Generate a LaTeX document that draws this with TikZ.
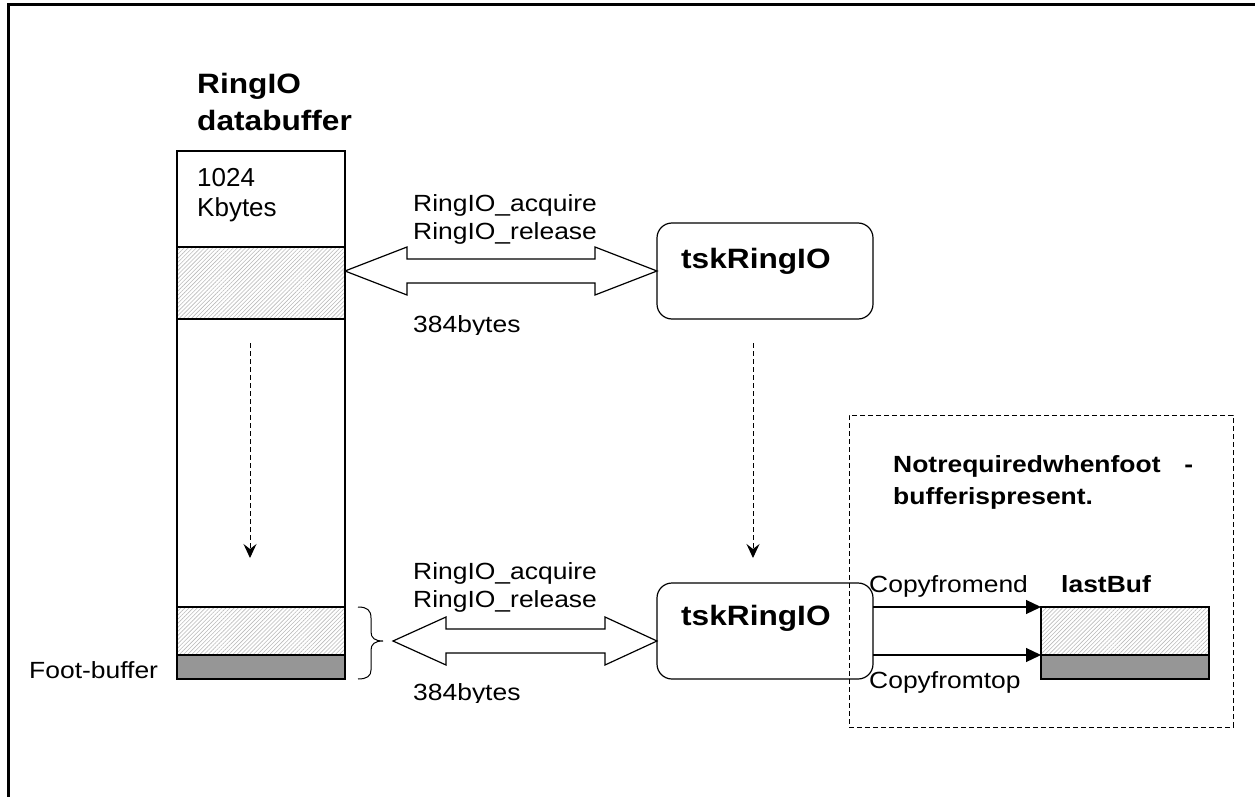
\documentclass[tikz,border=0pt]{standalone}
\usepackage{fontspec}
\setmainfont[FakeStretch=1.13]{Liberation Sans}
\newfontfamily\plainfont{Liberation Sans}
\usetikzlibrary{arrows.meta,patterns.meta,calc}
\newcommand\regsz{\fontsize{23.4}{27}\selectfont}
\newcommand\bigsz{\fontsize{28}{37}\selectfont\bfseries}
\newcommand\midbold{\fontsize{23.4}{30}\selectfont\bfseries}
\begin{document}
\begin{tikzpicture}[x=1pt,y=-1pt,
  box/.style={draw, line width=1.2pt, inner sep=0pt, outer sep=0pt, anchor=north west},
  hatch/.style={box, pattern={Lines[angle=45,distance=2.9pt,line width=0.6pt]}, pattern color=black!27},
  dark/.style={box, fill=black!41},
  txt/.style={inner sep=0pt, anchor=base west, font=\regsz},
  btxt/.style={inner sep=0pt, anchor=base west, font=\bigsz},
  mtxt/.style={inner sep=0pt, anchor=base west, font=\midbold},
  task/.style={draw, line width=1.2pt, rounded corners=15pt, minimum width=216pt, minimum height=96pt, inner sep=0pt, outer sep=0pt, anchor=north west},
  dasharrow/.style={line width=1pt, dash pattern=on 5pt off 3pt, -{Stealth[length=14pt,width=13pt,inset=5pt]}},
  blockarrow/.style={draw, line width=1.2pt, fill=white, line join=miter},
  copyarrow/.style={line width=1.2pt, -{Triangle[length=15pt,width=14pt]}}]
\useasboundingbox (0,0) rectangle (1255,797);
% outer frame
\draw[line width=3pt] (1262,5) -- (8,5) -- (8,805);
% title
\node[btxt] (title1) at (197,94) {RingIO};
\node[btxt] (title2) at (197,131) {databuffer};
% buffer
\node[box, minimum width=168pt, minimum height=96pt] (b0) at (177,151) {};
\node[hatch, minimum width=168pt, minimum height=72pt] (h1) at (177,247) {};
\node[box, minimum width=168pt, minimum height=288pt] (b1) at (177,319) {};
\node[hatch, minimum width=168pt, minimum height=48pt] (h2) at (177,607) {};
\node[dark, minimum width=168pt, minimum height=24pt] (fb) at (177,655) {};
\node[inner sep=0pt, anchor=base west, font=\plainfont\fontsize{26}{30}\selectfont] (kb1) at (197,186) {1024};
\node[inner sep=0pt, anchor=base west, font=\plainfont\fontsize{26}{30}\selectfont] (kb2) at (197,216) {Kbytes};
\node[txt] (foot) at (29,678) {Foot-buffer};
% tasks
\node[task] (t1) at (657,223) {};
\node[task] (t2) at (657,583) {};
\node[btxt] (t1l) at (681,268) {tskRingIO};
\node[btxt] (t2l) at (681,625) {tskRingIO};
% upper block arrow
\coordinate (a1L) at (h1.east |- t1.west);
\coordinate (a1R) at (t1.west);
\draw[blockarrow] (a1L) -- ++(62,-24) -- ++(0,12) -- ($(a1R)+(-62,-12)$) -- ++(0,-12) -- (a1R)
  -- ++(-62,24) -- ++(0,-12) -- ($(a1L)+(62,12)$) -- ++(0,12) -- cycle;
\node[txt] (acq1) at (413,211) {RingIO\_acquire};
\node[txt] (rel1) at (413,239) {RingIO\_release};
\begin{scope}
\clip (400,300) rectangle (640,334);
\node[txt] (sz1) at (413,332) {384bytes};
\end{scope}
% brace and lower block arrow
\coordinate (br) at (383,641);
\draw[line width=1pt] (358,607) .. controls (367,607) and (371,610) .. (371,618) -- (371,632)
  .. controls (371,638) and (375,641) .. (br) .. controls (375,641) and (371,644) .. (371,650) -- (371,670)
  .. controls (371,676) and (367,679) .. (358,679);
\coordinate (a2L) at ($(br)+(10,0)$);
\coordinate (a2R) at (t2.west |- br);
\draw[blockarrow] (a2L) -- ++(53,-24) -- ++(0,12) -- ($(a2R)+(-52,-12)$) -- ++(0,-12) -- (a2R)
  -- ++(-52,24) -- ++(0,-12) -- ($(a2L)+(53,12)$) -- ++(0,12) -- cycle;
\node[txt] (acq2) at (413,579) {RingIO\_acquire};
\node[txt] (rel2) at (413,607) {RingIO\_release};
\begin{scope}
\clip (400,670) rectangle (640,702);
\node[txt] (sz2) at (413,700) {384bytes};
\end{scope}
% dashed arrows
\coordinate (d1s) at (250,343);
\coordinate (d1e) at (250,558);
\draw[dasharrow] (d1s) -- (d1e);
\coordinate (d2s) at ($(t1.south)+(-12,24)$);
\coordinate (d2e) at ($(t2.north)+(-12,-25)$);
\draw[dasharrow] (d2s) -- (d2e);
% optional region
\node[draw, dash pattern=on 5pt off 3pt, line width=1pt, minimum width=384pt, minimum height=312pt, anchor=north west, inner sep=0pt, outer sep=0pt] (opt) at (849,415) {};
\node[mtxt] (nr1) at (893,472) {\makebox[300pt][l]{Notrequiredwhenfoot\hfill-}};
\node[mtxt] (nr2) at (893,504) {bufferispresent.};
\node[mtxt] (lbl) at (1061,592) {lastBuf};
\node[hatch, minimum width=168pt, minimum height=48pt] (lbh) at (1041,607) {};
\node[dark, minimum width=168pt, minimum height=24pt] (lbf) at (1041,655) {};
\node[txt] (cfe) at (869,592) {Copyfromend};
\node[txt] (cft) at (869,688) {Copyfromtop};
\draw[copyarrow] (t2.east |- lbh.north west) -- (lbh.north west);
\draw[copyarrow] (t2.east |- lbf.north west) -- (lbf.north west);
\end{tikzpicture}
\end{document}
